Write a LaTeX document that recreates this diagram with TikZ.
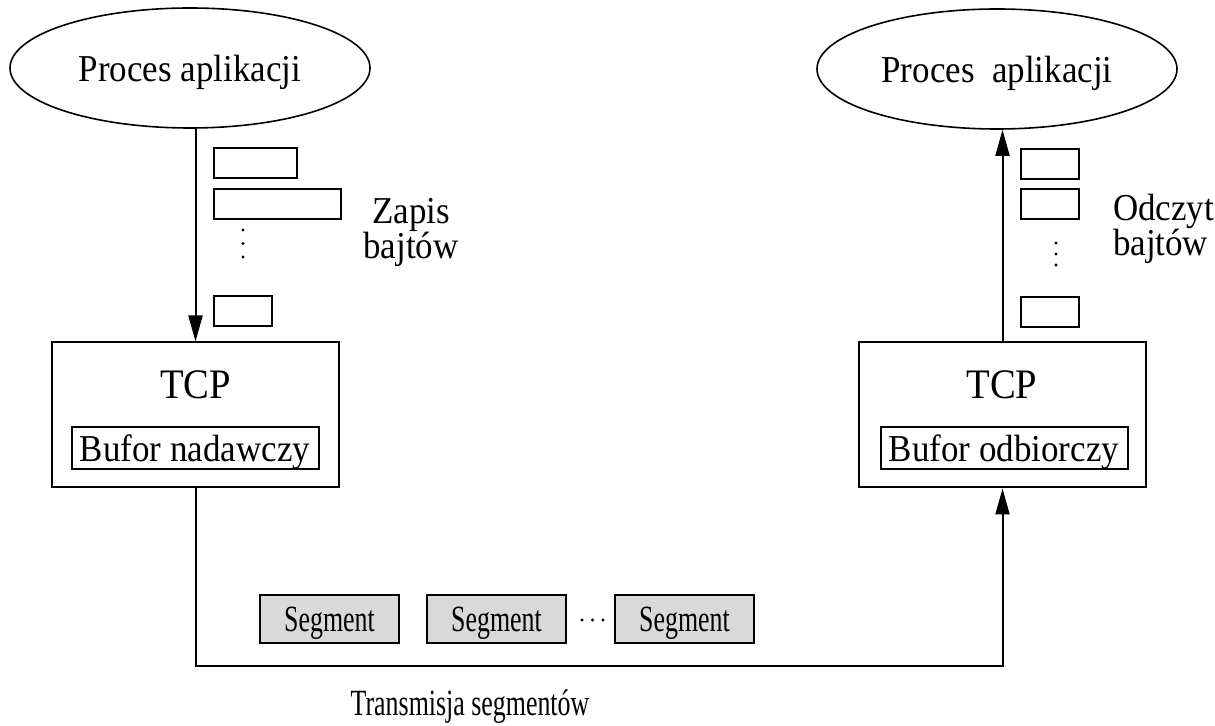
\documentclass[tikz,border=0pt]{standalone}
\usepackage{fontspec}
\setmainfont{Liberation Serif}[FakeStretch=0.92]
\newfontfamily\narrowserif{Liberation Serif}[FakeStretch=0.7]
\usetikzlibrary{arrows.meta,shapes,calc}
\newcommand{\mainsize}{\fontsize{19}{17.5}\selectfont}
\newcommand{\segsize}{\narrowserif\fontsize{18.5}{18.5}\selectfont}
\tikzset{%
  >={Triangle[length=13pt,width=7pt]},
  % Specifications for style of nodes:
         base/.style = {rectangle, draw=black, line width=1pt, inner sep=0pt},
   appProcess/.style = {ellipse, draw=black, line width=0.8pt,
                        minimum width=180pt, minimum height=60pt,
                        font=\mainsize, text depth=0pt},
       tcpBox/.style = {base, minimum width=143.5pt, minimum height=72.5pt},
     tcpLabel/.style = {anchor=base, font=\fontsize{21}{21}\selectfont},
    bufferBox/.style = {base, minimum width=123.5pt, minimum height=21pt,
                        font=\mainsize, text depth=0pt},
      byteBox/.style = {base, minimum height=15pt},
   segmentBox/.style = {base, fill=gray!30, minimum width=69.5pt,
                        minimum height=24pt, font=\segsize, text depth=0pt},
}

\begin{document}
\begin{tikzpicture}[x=0.5pt, y=-0.5pt, line width=1pt,
    every node/.style={font=\mainsize}]
  \useasboundingbox (0,0) rectangle (1215,726);
  % Application processes on both ends
  \node (senderApp)   [appProcess] at (190,68) {Proces aplikacji};
  \node (receiverApp) [appProcess] at (997,69) {Proces~ aplikacji};

  % TCP entities with their buffers
  \node (senderTcp)        [tcpBox]    at (195.5,415) {};
  \node (senderTcpLabel)   [tcpLabel]  at (195.5,399) {TCP};
  \node (senderBuffer)     [bufferBox] at (195,448)   {Bufor nadawczy};
  \node (receiverTcp)      [tcpBox]    at (1002.5,415) {};
  \node (receiverTcpLabel) [tcpLabel]  at (1002,399)   {TCP};
  \node (receiverBuffer)   [bufferBox] at (1004,448)   {Bufor odbiorczy};

  % Bytes written and read
  \node (senderByte1) [byteBox, minimum width=41.5pt] at (255.5,163) {};
  \node (senderByte2) [byteBox, minimum width=63.5pt] at (277.5,204) {};
  \node (senderByte3) [byteBox, minimum width=29pt]   at (243,311)   {};
  \foreach \k in {0,1,2} \fill (243,230+13.5*\k) circle (0.8pt);
  \node (writeLabel) [align=center, inner sep=0pt] at (411,232) {Zapis\\bajtów};

  \node (receiverByte1) [byteBox, minimum width=29pt] at (1050,164.5) {};
  \node (receiverByte2) [byteBox, minimum width=29pt] at (1050,204.5) {};
  \node (receiverByte3) [byteBox, minimum width=29pt] at (1050,312)   {};
  \foreach \k in {0,1,2} \fill (1056,243+11*\k) circle (0.8pt);
  \node (readLabel) [align=left, anchor=west, inner sep=0pt] at (1112,229) {Odczyt\\bajtów};

  % Segments in transit
  \node (segment1) [segmentBox] at (329.5,619) {Segment};
  \node (segment2) [segmentBox] at (496.5,619) {Segment};
  \node (segment3) [segmentBox] at (684.5,619) {Segment};
  \foreach \k in {0,1,2} \fill (582+10.5*\k,620) circle (0.8pt);
  \node (transferLabel) [anchor=base, font=\segsize] at (470,715) {Transmisja segmentów};

  % Specification of lines between nodes specified above
  \coordinate (linkLevel) at (0,666);
  \draw[->] (senderTcp.north |- senderApp.south) -- (senderTcp.north);
  \draw[->] (receiverTcp.north) -- (receiverTcp.north |- receiverApp.south);
  \draw[->] (senderTcp.south) |- (receiverTcp.south |- linkLevel) -- (receiverTcp.south);
\end{tikzpicture}
\end{document}
